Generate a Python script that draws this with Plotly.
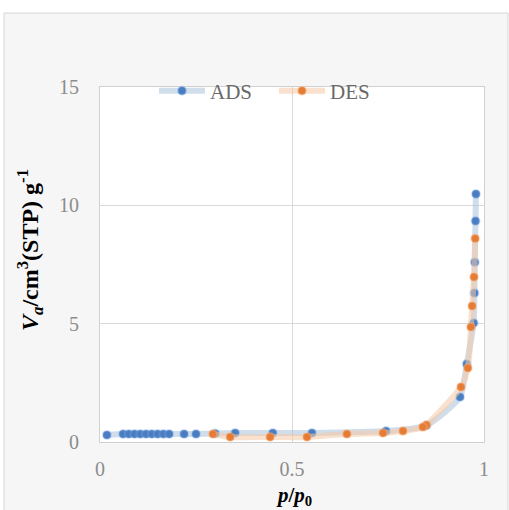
import plotly.graph_objects as go

# Adsorption branch (ADS)
ads_x = [0.018, 0.06, 0.075, 0.09, 0.105, 0.12, 0.135, 0.15, 0.165, 0.18, 0.219, 0.25,
         0.30, 0.352, 0.45, 0.552, 0.745, 0.85, 0.9375, 0.955, 0.973, 0.975, 0.976, 0.978, 0.979]
ads_y = [0.30, 0.34, 0.34, 0.34, 0.34, 0.34, 0.34, 0.34, 0.34, 0.34, 0.34, 0.34,
         0.36, 0.38, 0.38, 0.38, 0.46, 0.70, 1.90, 3.30, 5.03, 6.30, 7.60, 9.34, 10.48]

# Desorption branch (DES)
des_x = [0.977, 0.974, 0.969, 0.966, 0.958, 0.940, 0.85, 0.841, 0.789, 0.737,
         0.643, 0.539, 0.443, 0.339, 0.294]
des_y = [8.60, 6.97, 5.75, 4.86, 3.13, 2.32, 0.72, 0.63, 0.46, 0.38,
         0.34, 0.21, 0.21, 0.21, 0.34]

x_ticks = [0, 0.5, 1]
y_ticks = [0, 5, 10, 15]

BLUE = "#4a7cc0"
ORANGE = "#e57b34"
SERIF = "Liberation Serif"

fig = go.Figure()
fig.add_trace(go.Scatter(
    x=ads_x, y=ads_y, name="ADS", mode="lines+markers",
    line=dict(color="rgba(170,195,220,0.55)", width=6, shape="spline", smoothing=0.6),
    marker=dict(color=BLUE, size=8, line=dict(color="rgba(120,170,230,0.35)", width=2)),
))
fig.add_trace(go.Scatter(
    x=des_x, y=des_y, name="DES", mode="lines+markers",
    line=dict(color="rgba(245,200,165,0.55)", width=6, shape="spline", smoothing=0.6),
    marker=dict(color=ORANGE, size=8, line=dict(color="rgba(250,180,130,0.35)", width=2)),
))

W, H = 509, 510
L, R, T, B = 100, 25, 87, 68
pw, ph = W - L - R, H - T - B

def px(xp):
    return (xp - L) / pw

def py(yp):
    return (H - B - yp) / ph

fig.add_shape(type="rect", xref="paper", yref="paper",
              x0=px(4), x1=px(508), y0=py(520), y1=py(13),
              line=dict(color="#d6d6d6", width=1), fillcolor="#f6f6f6", layer="below")
fig.add_shape(type="rect", xref="paper", yref="paper",
              x0=0, x1=1, y0=0, y1=1,
              line=dict(width=0), fillcolor="white", layer="below")

fig.update_layout(
    width=W, height=H,
    margin=dict(l=L, r=R, t=T, b=B),
    paper_bgcolor="white", plot_bgcolor="rgba(0,0,0,0)",
    font=dict(family=SERIF, size=20, color="#8c8c8c"),
    showlegend=True,
    legend=dict(orientation="h", x=px(154), y=py(91), xanchor="left", yanchor="middle",
                bgcolor="rgba(0,0,0,0)", font=dict(family=SERIF, size=21, color="#6a6a6a"),
                itemwidth=46, entrywidth=59, entrywidthmode="pixels"),
    xaxis=dict(range=[0, 1], tickvals=x_ticks, ticktext=["0", "0.5", "1"],
               showgrid=True, gridcolor="#d9d9d9", gridwidth=1,
               showline=True, linecolor="#d0d0d0", mirror=True, zeroline=False,
               ticks="", ticklabelstandoff=9),
    yaxis=dict(range=[0, 15], tickvals=y_ticks, ticktext=["0", "5", "10", "15"],
               showgrid=True, gridcolor="#d9d9d9", gridwidth=1,
               showline=True, linecolor="#d0d0d0", mirror=True, zeroline=False,
               ticks="", ticklabelstandoff=16),
)

fig.add_annotation(xref="paper", yref="paper", x=px(30), y=py(250), showarrow=False,
                   textangle=-90, xanchor="center", yanchor="middle",
                   text="<b><i>V</i><sub><i>a</i></sub>/cm<sup>3</sup>(STP) g<sup>-1</sup></b>",
                   font=dict(family=SERIF, size=24, color="black"))
fig.add_annotation(xref="paper", yref="paper", x=px(294), y=py(496), showarrow=False,
                   xanchor="center", yanchor="middle",
                   text="<b><i>p</i>/<i>p</i><sub>0</sub></b>",
                   font=dict(family=SERIF, size=21, color="black"))

fig.write_html("out.html")
